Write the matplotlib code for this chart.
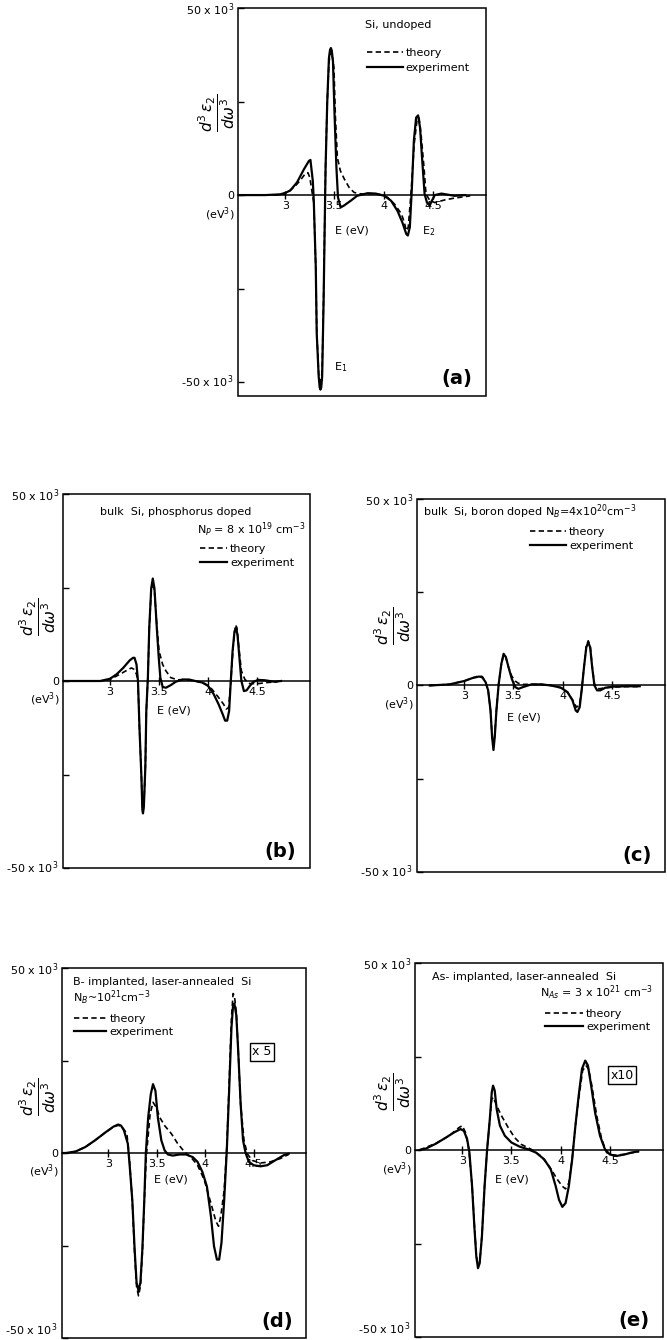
import numpy as np
import matplotlib
matplotlib.use("Agg")
from matplotlib import pyplot as plt
from matplotlib.patches import Rectangle

W, H = 667, 1340

# ---- (a) Si, undoped ----
a_exp_E = [2.52, 2.8, 2.95, 3.0, 3.05, 3.12, 3.19, 3.24, 3.256, 3.28, 3.29, 3.31, 3.32, 3.34, 3.35,
           3.358, 3.366, 3.375, 3.39, 3.40, 3.41, 3.427, 3.444, 3.455, 3.464, 3.473, 3.485, 3.50, 3.52,
           3.536, 3.563, 3.597, 3.666, 3.73, 3.836, 3.92, 4.007, 4.075, 4.14, 4.19, 4.23, 4.246, 4.266,
           4.287, 4.307, 4.33, 4.35, 4.37, 4.39, 4.416, 4.44, 4.468, 4.49, 4.52, 4.587, 4.655, 4.72, 4.83]
a_exp_y = [0, 0, 0.2, 0.6, 1.2, 3.4, 6.9, 9.1, 9.4, 3.8, -1.5, -19, -37, -48.5, -51.4,
           -52, -51.4, -48.5, -28, -10, 7.4, 25, 36.6, 38.8, 39.3, 38.6, 35.7, 22.4, 7.4,
           -0.6, -3.3, -2.8, -1.5, -0.2, 0.5, 0.4, -0.2, -1.5, -4.2, -7.3, -10.4, -10.8, -8.6,
           2, 14.5, 20.7, 21.3, 18, 10, 0.3, -2, -2.8, -1.5, 0, 0.4, 0.1, -0.2, 0]
a_th_E = [2.52, 2.9, 3.0, 3.085, 3.15, 3.2, 3.23, 3.25, 3.27, 3.29, 3.31, 3.32, 3.34, 3.358, 3.375,
          3.39, 3.40, 3.41, 3.427, 3.444, 3.464, 3.485, 3.495, 3.51, 3.53, 3.56, 3.6, 3.65, 3.70, 3.77,
          3.87, 3.97, 4.04, 4.11, 4.18, 4.21, 4.23, 4.25, 4.28, 4.31, 4.34, 4.36, 4.38, 4.41, 4.43,
          4.47, 4.52, 4.62, 4.72, 4.83, 4.88]
a_th_y = [0, 0, 0.3, 2, 3.8, 5.6, 6.0, 4.7, 1.2, -2, -19, -36, -48, -51, -47,
          -27, -9, 8, 25, 35.5, 38.5, 36, 34, 20.7, 10, 6.5, 4.3, 2, 0.7, 0.3,
          0.4, 0.1, -0.6, -2.4, -5, -7.3, -9.5, -8.6, 1.2, 13.6, 20.2, 20.6, 16.2, 7.4, 0.3,
          -1.5, -2, -1.3, -0.8, -0.4, -0.2]

# ---- (b) phosphorus doped ----
b_exp_E = [2.52, 2.9, 3.0, 3.067, 3.134, 3.2, 3.235, 3.25, 3.27, 3.285, 3.30, 3.32, 3.33, 3.336,
           3.345, 3.36, 3.37, 3.386, 3.40, 3.42, 3.436, 3.453, 3.477, 3.497, 3.513, 3.537, 3.57,
           3.62, 3.67, 3.74, 3.805, 3.87, 3.94, 4.0, 4.057, 4.107, 4.148, 4.174, 4.195, 4.215, 4.23,
           4.25, 4.27, 4.285, 4.30, 4.32, 4.34, 4.366, 4.393, 4.426, 4.46, 4.51, 4.577, 4.678, 4.745]
b_exp_y = [0, 0, 0.6, 1.8, 3.5, 5.5, 6.2, 6.2, 4.4, 0, -12.4, -25.7, -34.5, -35.4,
           -33.6, -23, -8, 0.9, 14.2, 24.8, 27.4, 24.8, 14.2, 6.2, 0.9, -1.6, -1.8,
           -1.1, -0.2, 0.4, 0.4, 0, -0.4, -1.3, -3.5, -6.2, -8.8, -10.6, -10.6, -8, -0.9,
           8, 13.3, 14.2, 12.4, 6.2, 0, -2.7, -2.5, -1.3, -0.3, 0.3, 0.2, -0.2, 0]
b_th_E = [2.52, 2.9, 3.0, 3.1, 3.168, 3.218, 3.245, 3.27, 3.285, 3.30, 3.32, 3.33, 3.336, 3.345,
          3.36, 3.37, 3.386, 3.40, 3.42, 3.436, 3.453, 3.477, 3.50, 3.537, 3.57, 3.62, 3.69, 3.77,
          3.87, 3.97, 4.04, 4.107, 4.158, 4.185, 4.21, 4.23, 4.258, 4.28, 4.295, 4.315, 4.34, 4.376,
          4.426, 4.51, 4.61, 4.71]
b_th_y = [0, 0, 0.4, 1.8, 2.8, 3.5, 3.1, 1.8, -0.4, -12.4, -25.5, -34, -35, -33,
          -23, -8, 0.9, 14, 24, 26.5, 24, 15, 8, 4.4, 2.7, 0.9, 0.3, 0.4,
          0, -0.7, -2.2, -4.4, -6.2, -7.5, -7.1, -0.9, 9.7, 15, 14.2, 8.8, 2.7, 0.4,
          -0.7, -0.7, -0.4, -0.2]

# ---- (c) boron doped ----
c_exp_E = [2.65, 2.85, 3.0, 3.083, 3.15, 3.183, 3.217, 3.243, 3.267, 3.283, 3.297, 3.31, 3.327, 3.35,
           3.377, 3.40, 3.423, 3.45, 3.483, 3.517, 3.55, 3.60, 3.683, 3.783, 3.883, 3.983, 4.05, 4.1,
           4.133, 4.15, 4.173, 4.193, 4.217, 4.24, 4.26, 4.28, 4.30, 4.323, 4.35, 4.383, 4.433, 4.517,
           4.65, 4.783]
c_exp_y = [0, 0.3, 1.2, 2, 2.4, 2.2, 0.9, -1.3, -6.7, -13.8, -17.3, -13.8, -6.7, 0.4,
           5.8, 8.5, 7.6, 4.9, 1.8, -0.4, -0.9, -0.4, 0.3, 0.3, 0, -0.6, -1.8, -4,
           -6.7, -7.1, -5.8, -1.3, 4.9, 10.2, 11.6, 10.2, 4.9, 0, -1.3, -1.3, -0.6, -0.3,
           -0.2, -0.2]
c_th_E = [2.65, 2.85, 3.0, 3.083, 3.15, 3.183, 3.217, 3.243, 3.267, 3.283, 3.297, 3.31, 3.327, 3.35,
          3.377, 3.40, 3.423, 3.45, 3.483, 3.517, 3.55, 3.6, 3.683, 3.783, 3.883, 3.983, 4.05, 4.1,
          4.14, 4.17, 4.193, 4.217, 4.24, 4.26, 4.28, 4.30, 4.323, 4.37, 4.433, 4.517, 4.65, 4.783]
c_th_y = [0, 0.3, 1.2, 2, 2.6, 2.4, 0.9, -1.3, -6.7, -13.5, -17, -13.5, -6.5, 0.4,
          5.6, 8.2, 7.6, 4.9, 2.5, 1.2, 0.6, 0.3, 0.3, 0.3, 0, -0.6, -1.8, -3.8,
          -5.8, -5.3, -1.3, 4.9, 10.5, 12, 10.5, 5.2, 0.4, -0.9, -0.6, -0.4, -0.3, -0.3]

# ---- (d) B-implanted, x5 ----
d_exp_E = [2.52, 2.56, 2.66, 2.76, 2.86, 2.97, 3.05, 3.10, 3.13, 3.16, 3.2, 3.22, 3.246, 3.27, 3.29,
           3.31, 3.33, 3.35, 3.37, 3.386, 3.41, 3.437, 3.46, 3.485, 3.51, 3.546, 3.58, 3.614, 3.665,
           3.734, 3.80, 3.87, 3.92, 3.97, 4.017, 4.058, 4.09, 4.12, 4.143, 4.167, 4.195, 4.222, 4.246,
           4.27, 4.287, 4.30, 4.32, 4.34, 4.365, 4.39, 4.416, 4.45, 4.50, 4.57, 4.64, 4.72, 4.81, 4.86]
d_exp_y = [0, 0, 0.4, 1.6, 3.4, 5.6, 7.1, 7.7, 7.4, 6.1, 2.5, -3.75, -12.7, -26, -35,
           -37.2, -35, -26, -12.7, 0, 9.6, 15.9, 18.6, 16.8, 9.6, 3.4, 0.7, -0.4, -0.7,
           -0.4, -0.4, -1.1, -2.4, -5.1, -9.1, -17.1, -25.2, -28.8, -28.8, -24.3, -12.7, 0.7, 16.8,
           33.75, 40, 40.4, 37.3, 27.5, 13.2, 3.4, 0, -2.4, -3.3, -3.6, -3.3, -2.0, -0.6, -0.2]
d_th_E = [2.52, 2.56, 2.66, 2.76, 2.86, 2.97, 3.05, 3.10, 3.14, 3.19, 3.215, 3.246, 3.27, 3.29, 3.31,
          3.33, 3.35, 3.37, 3.39, 3.43, 3.46, 3.495, 3.53, 3.58, 3.65, 3.716, 3.785, 3.85, 3.92, 3.99,
          4.058, 4.11, 4.137, 4.16, 4.195, 4.222, 4.246, 4.27, 4.287, 4.30, 4.32, 4.34, 4.365, 4.40,
          4.433, 4.485, 4.57, 4.67, 4.775, 4.86]
d_th_y = [0, 0, 0.4, 1.6, 3.4, 5.6, 7.0, 7.5, 7.1, 5.2, -1.1, -13, -27, -36, -38.6,
          -36, -27, -13, -1.1, 10.5, 13.7, 12.3, 9.6, 7.4, 5.2, 2.5, 0.3, -1.1, -3.3, -7.3,
          -13.6, -18.5, -19.8, -17.1, -10, 1.6, 18.6, 36.4, 43.1, 42.6, 38.2, 27.5, 13.2, 3.4,
          -0.2, -2, -2.7, -2.4, -1.5, -0.4]

# ---- (e) As-implanted, x10 ----
e_exp_E = [2.567, 2.633, 2.733, 2.833, 2.917, 2.983, 3.017, 3.05, 3.073, 3.1, 3.123, 3.143, 3.16,
           3.177, 3.2, 3.227, 3.253, 3.28, 3.3, 3.313, 3.33, 3.35, 3.383, 3.433, 3.5, 3.583, 3.667,
           3.75, 3.833, 3.9, 3.95, 3.983, 4.017, 4.05, 4.083, 4.117, 4.15, 4.183, 4.217, 4.25, 4.277,
           4.31, 4.35, 4.4, 4.45, 4.5, 4.567, 4.65, 4.717, 4.783]
e_exp_y = [0, 0.4, 1.7, 3.3, 4.7, 5.6, 5.1, 2.9, -0.7, -9.7, -20.4, -28.5, -31.6,
           -30.3, -23.1, -9.7, 0.2, 8.2, 15.4, 17.2, 15.9, 10.9, 6.5, 3.8, 2, 0.9, 0.2,
           -0.7, -2.5, -5.2, -9.7, -13.3, -15.2, -14.2, -9.7, -2.5, 6.5, 14.5, 21.7, 23.9, 22.6,
           17.2, 10, 3.8, 0.2, -1.2, -1.6, -1.2, -0.7, -0.4]
e_th_E = [2.567, 2.733, 2.867, 2.967, 3.0, 3.033, 3.067, 3.1, 3.123, 3.143, 3.16, 3.177, 3.2, 3.227,
          3.253, 3.28, 3.3, 3.317, 3.35, 3.4, 3.467, 3.533, 3.6, 3.7, 3.8, 3.883, 3.967, 4.017, 4.05,
          4.083, 4.117, 4.15, 4.183, 4.223, 4.257, 4.283, 4.317, 4.367, 4.417, 4.467, 4.533, 4.633,
          4.733, 4.8]
e_th_y = [0, 1.8, 3.8, 6.0, 6.5, 4.7, 0.2, -9.5, -20, -28, -31, -30, -23, -9.7,
          0.2, 8, 13.6, 14.1, 11.8, 9.1, 6, 3.3, 1.5, 0.2, -1.6, -4.3, -7.9, -9.7, -10.4,
          -8.8, -2.5, 6.5, 13.6, 21.2, 22.6, 21.7, 17.2, 9.1, 2.9, -0.7, -1.4, -1.2,
          -0.7, -0.4]

x_ticks = [3, 3.5, 4, 4.5]
x_tick_labels = ["3", "3.5", "4", "4.5"]
y_ticks = [-50, -25, 0, 25, 50]
y_tick_labels = ["-50 x 10$^3$", "", "0", "", "50 x 10$^3$"]

FS = 8
ylabel = r"$\dfrac{d^3\,\varepsilon_2}{d\omega^3}$"


def px_rect(left, top, right, bottom):
    return [left / W, 1 - bottom / H, (right - left) / W, (bottom - top) / H]


def draw_panel(fig, rect, exp_E, exp_y, th_E, th_y, ylim, tag, ylab_pos, elabel_pos,
               legend_pos, handlelength, labelspacing, low_va="center", xlim=(2.52, 5.04)):
    ax = fig.add_axes(rect)
    ax.plot(th_E, th_y, color="black", lw=1.2, dashes=(3.2, 2.0), label="theory",
            solid_joinstyle="round")
    ax.plot(exp_E, exp_y, color="black", lw=1.6, label="experiment", solid_joinstyle="round")

    ax.set_xlim(*xlim)
    ax.set_ylim(*ylim)

    # zero line acts as the x axis, box drawn separately
    ax.spines["bottom"].set_position(("data", 0))
    ax.spines["top"].set_visible(False)
    ax.spines["right"].set_visible(False)
    ax.spines["left"].set_visible(False)
    ax.spines["bottom"].set_linewidth(1.1)
    ax.add_patch(Rectangle((0, 0), 1, 1, transform=ax.transAxes, fill=False,
                           lw=1.1, ec="black", clip_on=False))

    ax.set_xticks(x_ticks)
    ax.set_xticklabels(x_tick_labels)
    ax.tick_params(axis="x", direction="inout", length=6, width=1, labelsize=FS, pad=1)
    ax.set_yticks(y_ticks)
    ax.set_yticklabels(y_tick_labels)
    ax.tick_params(axis="y", direction="in", length=4, width=1, labelsize=FS, pad=3)
    ax.get_yticklabels()[0].set_va(low_va)

    ytr = ax.get_yaxis_transform()
    ax.text(-0.015, -5, "(eV$^3$)", transform=ytr, ha="right", va="center", fontsize=FS)
    ax.text(ylab_pos[0], ylab_pos[1], ylabel, transform=ytr, rotation=90,
            ha="center", va="center", fontsize=11)
    ax.text(elabel_pos[0], elabel_pos[1], "E (eV)", ha="center", va="center", fontsize=FS)
    ax.text(0.945, 0.02, tag, transform=ax.transAxes, ha="right", va="bottom",
            fontsize=14, fontweight="bold")

    ax.legend(loc="upper left", bbox_to_anchor=legend_pos, frameon=False, fontsize=FS,
              handlelength=handlelength, handletextpad=0.3, labelspacing=labelspacing,
              borderpad=0, borderaxespad=0)
    return ax


fig = plt.figure(figsize=(W / 100, H / 100), dpi=100)

ax_a = draw_panel(fig, px_rect(238, 8, 486, 396), a_exp_E, a_exp_y, a_th_E, a_th_y,
                  (-53.7, 49.5), "(a)", (-0.085, 22), (3.68, -9.6), (0.52, 0.897), 3.2, 0.45)
ax_a.text(0.512, 0.956, "Si, undoped", transform=ax_a.transAxes, ha="left", va="center", fontsize=FS)
ax_a.text(4.46, -9.6, "E$_2$", ha="center", va="center", fontsize=FS)
ax_a.text(3.56, -46, "E$_1$", ha="center", va="center", fontsize=FS)

ax_b = draw_panel(fig, px_rect(63, 494, 310, 868), b_exp_E, b_exp_y, b_th_E, b_th_y,
                  (-49, 50), "(b)", (-0.105, 17), (3.655, -8), (0.555, 0.866), 2.4, 0.35)
ax_b.text(0.15, 0.952, "bulk  Si, phosphorus doped", transform=ax_b.transAxes,
          ha="left", va="center", fontsize=FS)
ax_b.text(0.543, 0.904, "N$_P$ = 8 x 10$^{19}$ cm$^{-3}$", transform=ax_b.transAxes,
          ha="left", va="center", fontsize=FS)

ax_c = draw_panel(fig, px_rect(417, 499, 665, 872), c_exp_E, c_exp_y, c_th_E, c_th_y,
                  (-48.7, 50), "(c)", (-0.097, 16), (3.61, -8.5), (0.456, 0.925), 3.2, 0.35)
ax_c.text(0.024, 0.965, "bulk  Si, boron doped N$_B$=4x10$^{20}$cm$^{-3}$", transform=ax_c.transAxes,
          ha="left", va="center", fontsize=FS)

ax_d = draw_panel(fig, px_rect(62, 968, 306, 1338), d_exp_E, d_exp_y, d_th_E, d_th_y,
                  (-49, 50), "(d)", (-0.1, 15.2), (3.647, -7.2), (0.05, 0.876), 2.9, 0.25,
                  low_va="bottom")
ax_d.text(0.045, 0.962, "B- implanted, laser-annealed  Si", transform=ax_d.transAxes,
          ha="left", va="center", fontsize=FS)
ax_d.text(0.045, 0.919, "N$_B$~10$^{21}$cm$^{-3}$", transform=ax_d.transAxes,
          ha="left", va="center", fontsize=FS)
ax_d.text(0.82, 0.773, "x 5", transform=ax_d.transAxes, ha="center", va="center", fontsize=9,
          bbox=dict(boxstyle="square,pad=0.2", fc="white", ec="black", lw=1))

ax_e = draw_panel(fig, px_rect(415, 963, 663, 1337), e_exp_E, e_exp_y, e_th_E, e_th_y,
                  (-49.5, 50), "(e)", (-0.089, 15.5), (3.5, -8), (0.524, 0.877), 3.4, 0.25,
                  low_va="bottom")
ax_e.text(0.069, 0.963, "As- implanted, laser-annealed  Si", transform=ax_e.transAxes,
          ha="left", va="center", fontsize=FS)
ax_e.text(0.504, 0.92, "N$_{As}$ = 3 x 10$^{21}$ cm$^{-3}$", transform=ax_e.transAxes,
          ha="left", va="center", fontsize=FS)
ax_e.text(0.835, 0.70, "x10", transform=ax_e.transAxes, ha="center", va="center", fontsize=9,
          bbox=dict(boxstyle="square,pad=0.2", fc="white", ec="black", lw=1))

fig.savefig("out.png", dpi=100)
